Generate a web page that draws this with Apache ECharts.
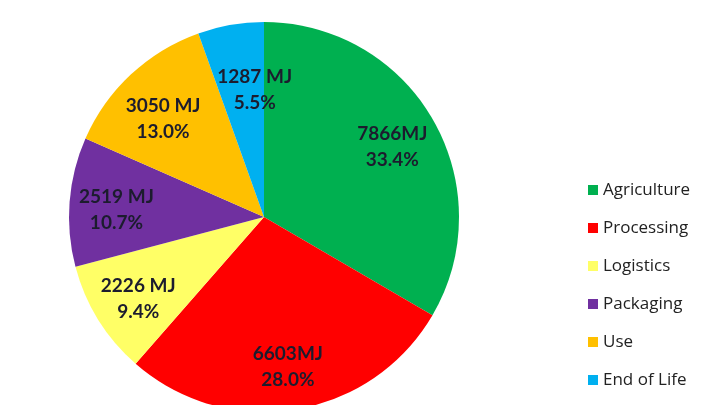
<!DOCTYPE html>
<html>
<head>
<meta charset="utf-8">
<script src="https://cdn.jsdelivr.net/npm/echarts@6/dist/echarts.min.js"></script>
<style>
  html, body { margin: 0; padding: 0; background: #fff; }
  #chart { width: 717px; height: 405px; }
</style>
</head>
<body>
<div id="chart"></div>
<script>
// Energy use by life-cycle stage (MJ)
const stages = ['Agriculture', 'Processing', 'Logistics', 'Packaging', 'Use', 'End of Life'];
const energyMJ = [7866, 6603, 2226, 2519, 3050, 1287];
const valueLabels = ['7866MJ', '6603MJ', '2226 MJ', '2519 MJ', '3050 MJ', '1287 MJ'];
const shareLabels = ['33.4%', '28.0%', '9.4%', '10.7%', '13.0%', '5.5%'];
const colors = ['#00B050', '#FF0000', '#FFFF66', '#7030A0', '#FFC000', '#00B0F0'];

const pieData = stages.map((name, i) => ({ name, value: energyMJ[i] }));
const center = [264, 217];

// small nudges for labels of the narrow slices near the top
const labelNudge = { 'Use': [0, 10], 'End of Life': [16, 19] };
const labelData = pieData.map(d => labelNudge[d.name]
  ? Object.assign({}, d, { label: { offset: labelNudge[d.name] } })
  : d);

const chart = echarts.init(document.getElementById('chart'), null, { renderer: 'canvas' });
chart.setOption({
  animation: false,
  color: colors,
  legend: {
    orient: 'vertical',
    left: 583,
    top: 176,
    itemWidth: 10,
    itemHeight: 10,
    itemGap: 20,
    icon: 'rect',
    data: stages,
    textStyle: { fontFamily: 'Open Sans', fontSize: 17, lineHeight: 18, color: '#222' }
  },
  series: [
    {
      type: 'pie',
      center: center,
      radius: 195,
      startAngle: 90,
      clockwise: true,
      silent: true,
      label: { show: false },
      labelLine: { show: false },
      itemStyle: { borderWidth: 0 },
      data: pieData
    },
    {
      // transparent ring carrying the in-slice labels
      type: 'pie',
      center: center,
      radius: [95, 195],
      startAngle: 90,
      clockwise: true,
      silent: true,
      itemStyle: { color: 'rgba(0,0,0,0)', borderWidth: 0 },
      labelLine: { show: false },
      label: {
        show: true,
        position: 'inside',
        offset: [0, 4],
        fontFamily: 'Lato',
        fontWeight: 'bold',
        fontSize: 19,
        lineHeight: 26,
        color: '#1c1c2e',
        formatter: p => valueLabels[p.dataIndex] + '\n' + shareLabels[p.dataIndex]
      },
      data: labelData
    }
  ]
});
</script>
</body>
</html>
